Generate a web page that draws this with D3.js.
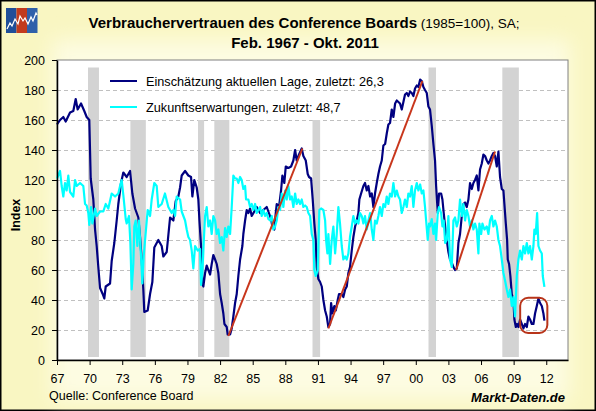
<!DOCTYPE html>
<html>
<head>
<meta charset="utf-8">
<script src="https://cdn.jsdelivr.net/npm/d3@7"></script>
<style>
  body { margin: 0; background: #fff; }
  svg text { font-family: "Liberation Sans", Arial, sans-serif; }
</style>
</head>
<body>
<svg id="chart" width="596" height="411"></svg>
<script>
// Einschätzung der aktuellen Lage (Jahr, Index)
const lage = [
  [1967.0,157],[1967.28,160],[1967.58,162],[1967.8,159],[1968.2,165],[1968.5,166],[1968.72,174],[1968.9,167],
  [1969.21,171],[1969.51,166],[1969.73,162],[1969.97,160],[1970.1,121],[1970.34,107],[1970.5,87],[1970.65,76],
  [1970.8,62],[1970.96,48],[1971.2,44],[1971.35,41],[1971.48,49],[1971.88,51],[1972.03,66],[1972.27,78],
  [1972.49,93],[1972.64,104],[1972.89,118],[1973.1,125],[1973.41,122],[1973.72,126],[1973.93,111],[1974.18,101],
  [1974.48,95],[1974.64,82],[1974.79,67],[1974.94,47],[1975.03,32],[1975.34,33],[1975.56,44],[1975.77,52],
  [1975.95,75],[1976.32,80],[1976.63,76],[1976.78,69],[1977.09,72],[1977.4,95],[1977.7,93],[1977.92,106],
  [1978.16,109],[1978.32,115],[1978.47,123],[1978.78,126],[1979.08,123],[1979.33,122],[1979.45,109],[1979.63,120],
  [1979.85,115],[1980.0,107],[1980.1,93],[1980.25,76],[1980.37,51],[1980.46,49],[1980.62,58],[1980.77,63],
  [1980.92,60],[1981.08,57],[1981.23,64],[1981.38,70],[1981.54,67],[1981.69,64],[1981.84,58],[1982.0,44],
  [1982.15,38],[1982.3,31],[1982.4,24],[1982.61,22],[1982.7,17],[1982.92,17],[1983.07,21],[1983.22,29],
  [1983.38,38],[1983.53,44],[1983.68,56],[1983.84,67],[1984.05,76],[1984.14,84],[1984.3,93],[1984.45,100],
  [1984.6,98],[1984.76,101],[1984.91,96],[1985.22,100],[1985.37,102],[1985.68,98],[1985.98,100],[1986.29,102],
  [1986.44,99],[1986.69,94],[1986.81,89],[1986.99,87],[1987.12,98],[1987.21,104],[1987.42,102],[1987.61,113],
  [1987.73,123],[1987.91,118],[1988.04,129],[1988.28,128],[1988.53,129],[1988.74,133],[1988.9,140],[1989.05,133],
  [1989.26,137],[1989.51,141],[1989.66,136],[1989.88,133],[1990.06,124],[1990.18,122],[1990.37,121],[1990.52,107],
  [1990.67,91],[1990.8,80],[1990.89,62],[1991.04,54],[1991.2,52],[1991.35,49],[1991.5,40],[1991.66,33],
  [1991.81,29],[1991.96,22],[1992.12,24],[1992.21,38],[1992.33,31],[1992.51,36],[1992.64,33],[1992.82,40],
  [1992.94,44],[1993.19,44],[1993.34,42],[1993.5,47],[1993.65,49],[1993.8,58],[1993.95,62],[1994.11,73],
  [1994.26,82],[1994.42,89],[1994.57,93],[1994.72,98],[1994.81,107],[1994.97,111],[1995.18,116],[1995.33,118],
  [1995.49,113],[1995.64,116],[1995.8,109],[1995.95,111],[1996.1,102],[1996.25,111],[1996.41,118],[1996.56,124],
  [1996.71,129],[1996.87,133],[1997.02,143],[1997.18,144],[1997.33,151],[1997.48,157],[1997.63,158],[1997.79,167],
  [1997.94,162],[1998.1,171],[1998.25,173],[1998.4,172],[1998.55,171],[1998.71,167],[1998.86,172],[1999.01,177],
  [1999.17,178],[1999.32,176],[1999.47,179],[1999.63,178],[1999.78,176],[1999.93,181],[2000.09,183],[2000.24,182],
  [2000.4,187],[2000.55,186],[2000.7,182],[2000.85,180],[2001.01,178],[2001.16,169],[2001.31,167],[2001.47,156],
  [2001.62,144],[2001.77,133],[2001.87,116],[2002.02,98],[2002.14,111],[2002.33,111],[2002.45,107],[2002.57,98],
  [2002.7,89],[2002.85,80],[2003.0,72],[2003.15,67],[2003.31,65],[2003.46,62],[2003.61,60],[2003.77,61],
  [2003.92,78],[2004.07,84],[2004.23,96],[2004.38,104],[2004.53,105],[2004.69,102],[2004.84,107],[2004.99,118],
  [2005.15,114],[2005.3,118],[2005.45,120],[2005.61,123],[2005.76,113],[2005.91,127],[2006.07,131],[2006.22,137],
  [2006.37,136],[2006.53,133],[2006.68,131],[2006.83,133],[2006.99,136],[2007.14,138],[2007.29,136],[2007.45,129],
  [2007.6,139],[2007.75,122],[2007.91,114],[2008.06,113],[2008.15,104],[2008.28,91],[2008.4,80],[2008.46,67],
  [2008.58,64],[2008.7,56],[2008.83,44],[2008.98,40],[2009.07,27],[2009.2,22],[2009.32,24],[2009.44,22],
  [2009.59,27],[2009.75,24],[2009.9,21],[2010.05,24],[2010.21,22],[2010.36,29],[2010.51,27],[2010.67,24],
  [2010.82,24],[2010.97,31],[2011.13,36],[2011.28,41],[2011.43,38],[2011.59,36],[2011.74,31],[2011.83,26.3]
];

// Zukunftserwartungen (Jahr, Index)
const erwartung = [
  [1967.0,121],[1967.28,126],[1967.43,116],[1967.58,109],[1967.74,118],[1967.89,113],[1968.04,123],[1968.2,112],
  [1968.5,109],[1968.66,120],[1968.81,116],[1969.12,118],[1969.42,116],[1969.58,104],[1969.73,103],[1969.88,98],
  [1969.97,90],[1970.13,102],[1970.25,91],[1970.5,101],[1970.65,96],[1970.96,99],[1971.26,99],[1971.48,104],
  [1971.72,101],[1972.03,111],[1972.34,109],[1972.64,111],[1972.8,116],[1972.95,120],[1973.1,110],[1973.32,94],
  [1973.41,91],[1973.62,96],[1973.75,78],[1973.87,47],[1974.02,64],[1974.11,89],[1974.24,93],[1974.39,76],
  [1974.54,93],[1974.73,69],[1974.85,51],[1974.97,69],[1975.1,80],[1975.34,100],[1975.56,96],[1975.71,107],
  [1975.95,118],[1976.17,116],[1976.32,102],[1976.63,104],[1976.93,111],[1977.24,102],[1977.55,98],[1977.7,100],
  [1977.86,96],[1978.01,109],[1978.32,107],[1978.47,99],[1978.78,93],[1978.93,87],[1979.08,82],[1979.24,80],
  [1979.39,73],[1979.54,61],[1979.7,76],[1979.94,73],[1980.16,74],[1980.25,50],[1980.37,58],[1980.49,78],
  [1980.62,96],[1980.77,102],[1980.92,89],[1981.08,93],[1981.23,84],[1981.38,96],[1981.54,93],[1981.69,84],
  [1981.84,87],[1982.0,78],[1982.15,82],[1982.3,73],[1982.46,88],[1982.61,82],[1982.76,89],[1982.92,84],
  [1983.07,102],[1983.22,123],[1983.38,121],[1983.53,121],[1983.68,118],[1983.84,122],[1983.99,120],[1984.14,114],
  [1984.3,116],[1984.39,107],[1984.6,107],[1984.76,102],[1984.91,104],[1985.06,100],[1985.22,104],[1985.37,98],
  [1985.52,100],[1985.68,102],[1985.83,96],[1985.98,100],[1986.14,96],[1986.29,98],[1986.44,94],[1986.6,93],
  [1986.75,96],[1986.9,87],[1987.06,89],[1987.21,93],[1987.36,102],[1987.52,100],[1987.67,111],[1987.82,102],
  [1987.98,113],[1988.13,107],[1988.28,116],[1988.44,107],[1988.59,109],[1988.74,102],[1988.9,111],[1989.05,104],
  [1989.2,107],[1989.36,104],[1989.51,107],[1989.66,102],[1989.82,103],[1989.97,102],[1990.12,98],[1990.28,96],
  [1990.43,84],[1990.58,80],[1990.67,60],[1990.8,56],[1990.9,58],[1990.98,60],[1991.04,76],[1991.13,100],
  [1991.29,101],[1991.5,100],[1991.66,93],[1991.75,80],[1991.87,71],[1991.96,84],[1992.12,64],[1992.27,80],
  [1992.42,89],[1992.58,71],[1992.73,84],[1992.88,102],[1993.03,91],[1993.19,76],[1993.34,67],[1993.5,69],
  [1993.65,67],[1993.8,71],[1993.95,82],[1994.11,89],[1994.26,96],[1994.42,91],[1994.57,93],[1994.72,91],
  [1994.87,98],[1995.03,96],[1995.18,91],[1995.33,96],[1995.49,87],[1995.64,93],[1995.8,98],[1995.95,87],
  [1996.1,80],[1996.25,93],[1996.41,91],[1996.56,96],[1996.71,102],[1996.87,96],[1997.02,104],[1997.18,102],
  [1997.33,109],[1997.48,104],[1997.63,111],[1997.79,109],[1997.94,118],[1998.1,109],[1998.25,113],[1998.4,109],
  [1998.55,107],[1998.71,98],[1998.86,102],[1999.01,107],[1999.17,102],[1999.32,111],[1999.47,109],[1999.63,116],
  [1999.78,102],[1999.93,113],[2000.09,118],[2000.24,113],[2000.4,117],[2000.55,111],[2000.7,113],[2000.85,102],
  [2000.95,93],[2001.1,80],[2001.22,91],[2001.31,89],[2001.47,94],[2001.62,84],[2001.77,91],[2001.87,80],
  [2002.02,98],[2002.14,102],[2002.33,98],[2002.45,89],[2002.57,93],[2002.7,78],[2002.85,80],[2003.0,96],
  [2003.15,67],[2003.31,62],[2003.46,93],[2003.61,95],[2003.77,89],[2003.92,93],[2004.07,107],[2004.23,96],
  [2004.38,104],[2004.53,93],[2004.69,100],[2004.84,96],[2004.99,89],[2005.15,93],[2005.3,87],[2005.45,91],
  [2005.61,87],[2005.76,71],[2005.85,91],[2006.01,84],[2006.13,91],[2006.31,87],[2006.53,89],[2006.68,84],
  [2006.83,93],[2006.99,96],[2007.14,89],[2007.29,93],[2007.45,89],[2007.6,80],[2007.75,76],[2007.91,67],
  [2008.06,58],[2008.21,53],[2008.37,47],[2008.52,42],[2008.67,47],[2008.83,36],[2008.98,42],[2009.13,29],
  [2009.29,56],[2009.44,67],[2009.59,73],[2009.75,67],[2009.9,76],[2010.05,71],[2010.21,78],[2010.36,71],
  [2010.51,76],[2010.67,67],[2010.82,76],[2010.91,87],[2011.03,84],[2011.16,98],[2011.28,76],[2011.43,73],
  [2011.59,71],[2011.68,56],[2011.83,48.7]
];

// Rezessionen: Beginn, Ende, Oberkante
const rezessionen = [
  [1969.85, 1970.86, 195], [1973.75, 1975.17, 160], [1979.97, 1980.53, 160],
  [1981.47, 1982.85, 160], [1990.5, 1991.2, 160], [2001.17, 2001.86, 195], [2007.96, 2009.48, 195]
];

// Trendlinien (Start, Ende)
const trends = [
  [[1982.76, 16], [1989.57, 141]],
  [[1991.96, 21], [2000.61, 186]],
  [[2003.71, 60], [2007.29, 139]]
];

// Markierung der letzten Werte
const markierung = { x: [2009.6, 2012.1], y: [18, 41.5] };

const xTicks = d3.range(1967, 2013, 3);
const yTicks = d3.range(0, 201, 20);

const series = [
  { name: "Einschätzung aktuellen Lage, zuletzt: 26,3", data: lage, color: "#000080" },
  { name: "Zukunftserwartungen, zuletzt: 48,7", data: erwartung, color: "#00FFFF" }
];

const svg = d3.select("#chart");
const W = 596, H = 411;
const plot = { left: 57, top: 60, right: 568, bottom: 360 };

// background
const defs = svg.append("defs");
defs.append("filter").attr("id", "glow")
  .attr("x", "-10%").attr("y", "-10%").attr("width", "120%").attr("height", "120%")
  .append("feGaussianBlur").attr("stdDeviation", 10);

svg.append("rect")
  .attr("x", 0.75).attr("y", 0.75)
  .attr("width", W - 1.5).attr("height", H - 1.5)
  .attr("fill", "#F9F6C2")
  .attr("stroke", "#000")
  .attr("stroke-width", 1.5);

svg.append("rect")
  .attr("x", 52).attr("y", 40)
  .attr("width", 518).attr("height", 360)
  .attr("fill", "#FDFCE2")
  .attr("filter", "url(#glow)");

// logo
const logo = svg.append("g").attr("transform", "translate(6,8)");
[["#1F4E99", 0], ["#C23B1E", 10.5], ["#2F60AA", 21]].forEach(([c, dx]) => {
  logo.append("rect").attr("x", dx).attr("y", 0).attr("width", 10.5).attr("height", 25).attr("fill", c);
});
logo.append("polyline")
  .attr("points", "1,21 4,15 6,18 9,11 12,16 14,8 17,13 19,10 22,16 25,9 27,13 30,5 31,7")
  .attr("fill", "none").attr("stroke", "#fff").attr("stroke-width", 1.2);

// title
const title = svg.append("text")
  .attr("x", 304).attr("y", 28)
  .attr("text-anchor", "middle")
  .style("font-size", "15px");
title.append("tspan").style("font-weight", "bold").text("Verbrauchervertrauen des Conference Boards");
title.append("tspan").style("font-size", "13.5px").text(" (1985=100), SA;");

svg.append("text")
  .attr("x", 305).attr("y", 48)
  .attr("text-anchor", "middle")
  .style("font-size", "15px")
  .style("font-weight", "bold")
  .text("Feb. 1967 - Okt. 2011");

const x = d3.scaleLinear().domain([1967, 2014]).range([plot.left, plot.right]);
const y = d3.scaleLinear().domain([0, 200]).range([plot.bottom, plot.top]);

// plot area
svg.append("rect")
  .attr("x", plot.left).attr("y", plot.top)
  .attr("width", plot.right - plot.left).attr("height", plot.bottom - plot.top)
  .attr("fill", "#fff")
  .attr("stroke", "#808080")
  .attr("stroke-width", 1);

// grid
svg.append("g")
  .selectAll("line")
  .data(yTicks.filter(v => v > 0 && v < 200))
  .join("line")
  .attr("x1", plot.left).attr("x2", plot.right)
  .attr("y1", d => y(d) + 0.5).attr("y2", d => y(d) + 0.5)
  .attr("stroke", "#C0C0C0")
  .attr("stroke-dasharray", "4,3");

// recessions
svg.append("g")
  .selectAll("rect")
  .data(rezessionen)
  .join("rect")
  .attr("x", d => x(d[0]))
  .attr("width", d => x(d[1]) - x(d[0]))
  .attr("y", d => y(d[2]))
  .attr("height", d => y(2) - y(d[2]))
  .attr("fill", "#D3D3D3");

// series
const line = d3.line()
  .x(d => x(d[0]))
  .y(d => y(d[1]));

svg.append("g")
  .selectAll("path")
  .data(series)
  .join("path")
  .attr("d", d => line(d.data))
  .attr("fill", "none")
  .attr("stroke", d => d.color)
  .attr("stroke-width", 2.2)
  .attr("stroke-linejoin", "round");

// trends
svg.append("g")
  .selectAll("path")
  .data(trends)
  .join("path")
  .attr("d", d => line(d))
  .attr("fill", "none")
  .attr("stroke", "#C8361C")
  .attr("stroke-width", 2);

svg.append("rect")
  .attr("x", x(markierung.x[0]))
  .attr("y", y(markierung.y[1]))
  .attr("width", x(markierung.x[1]) - x(markierung.x[0]))
  .attr("height", y(markierung.y[0]) - y(markierung.y[1]))
  .attr("rx", 8).attr("ry", 8)
  .attr("fill", "none")
  .attr("stroke", "#B8341A")
  .attr("stroke-width", 2);

// axes
const yAxis = svg.append("g")
  .attr("transform", `translate(${plot.left},0)`)
  .call(d3.axisLeft(y).tickValues(yTicks).tickSize(5).tickSizeOuter(0).tickPadding(7));
const xAxis = svg.append("g")
  .attr("transform", `translate(0,${plot.bottom})`)
  .call(d3.axisBottom(x).tickValues(xTicks).tickSize(5).tickSizeOuter(0).tickPadding(9)
    .tickFormat(d => String(d).slice(2)));

[yAxis, xAxis].forEach(a => {
  a.selectAll("text").style("font-size", "12.5px").attr("fill", "#000")
    .style("font-family", '"Liberation Sans", Arial, sans-serif');
  a.selectAll("line").attr("stroke", "#000");
  a.select(".domain").attr("stroke", "#000").attr("stroke-width", 1.5);
});

svg.append("text")
  .attr("transform", "translate(20,215) rotate(-90)")
  .attr("text-anchor", "middle")
  .style("font-size", "12.5px")
  .style("font-weight", "bold")
  .text("Index");

// legend
const legend = svg.append("g")
  .selectAll("g")
  .data(series)
  .join("g")
  .attr("transform", (d, i) => `translate(110,${81 + i * 26})`);
legend.append("line")
  .attr("x1", 0).attr("x2", 27)
  .attr("stroke", d => d.color)
  .attr("stroke-width", 2);
legend.append("text")
  .attr("x", 36).attr("y", 4.5)
  .style("font-size", "12.7px")
  .text(d => d.name);

// footer
svg.append("text")
  .attr("x", 49).attr("y", 400)
  .style("font-size", "12.5px")
  .text("Quelle: Conference Board");

svg.append("text")
  .attr("x", 565).attr("y", 402)
  .attr("text-anchor", "end")
  .style("font-size", "13px")
  .style("font-weight", "bold")
  .style("font-style", "italic")
  .text("Markt-Daten.de");
</script>
</body>
</html>
